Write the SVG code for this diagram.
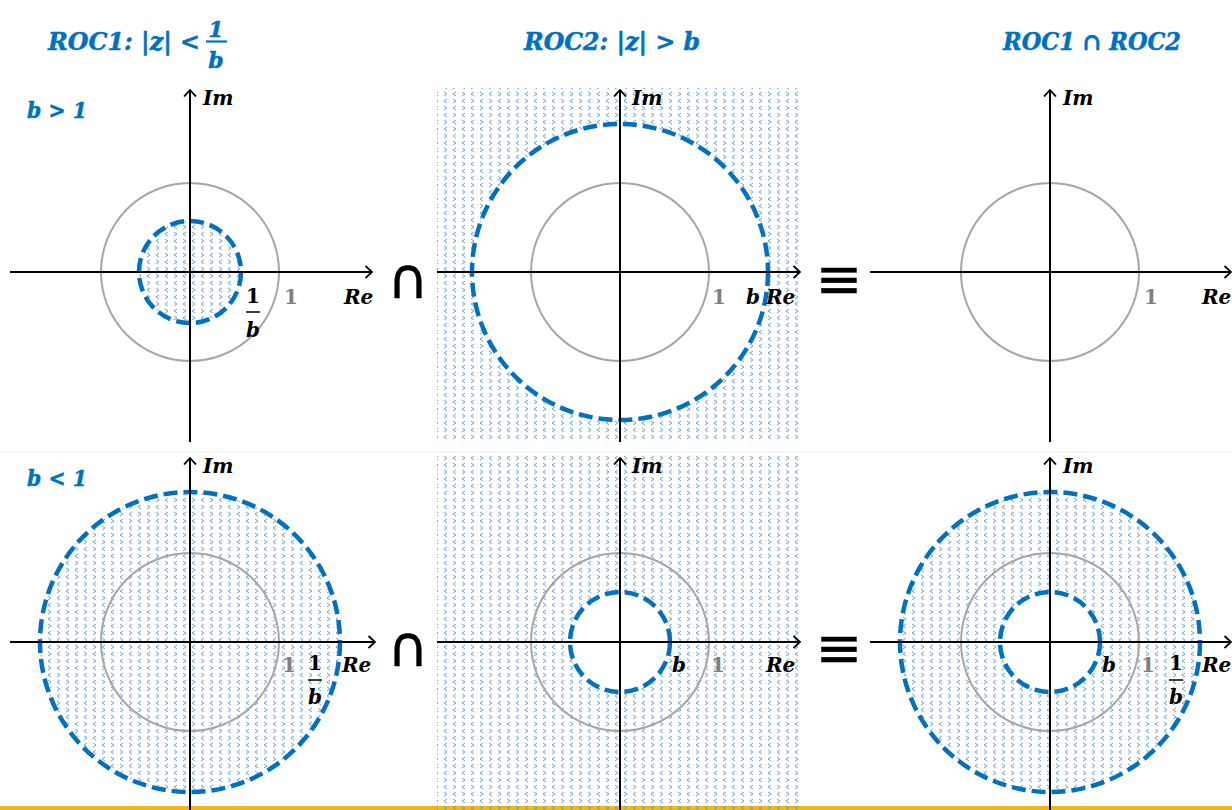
<svg xmlns="http://www.w3.org/2000/svg" width="1232" height="810" viewBox="0 0 1232 810">
<defs>
<pattern id="dots" x="0" y="0" width="18" height="14" patternUnits="userSpaceOnUse">
<path d="M3,1 L6,3 L3,5 M15,1 L12,3 L15,5 M6,8 L3,10 L6,12 M12,8 L15,10 L12,12" fill="none" stroke="#5d97d6" stroke-width="0.9"/>
</pattern>
<marker id="ah" viewBox="0 0 8 14" refX="7" refY="7" markerWidth="8" markerHeight="14" markerUnits="userSpaceOnUse" orient="auto">
<path d="M0.5,1 L7,7 L0.5,13" fill="none" stroke="#000" stroke-width="1.8"/>
</marker>
<style>
.ax{stroke:#000;stroke-width:2;fill:none;marker-end:url(#ah)}
.unit{fill:none;stroke:#a6a6a6;stroke-width:2}
.roc{fill:none;stroke:#0070c0;stroke-width:4.5;stroke-dasharray:14 6}
.hd{font-family:"DejaVu Serif","Liberation Serif",serif;font-weight:bold;font-style:italic;fill:#0070c0;stroke:#0070c0;stroke-width:0.5}
.lb{font-family:"DejaVu Serif","Liberation Serif",serif;font-weight:bold;font-style:italic;fill:#000;font-size:20px}
.one{font-family:"DejaVu Serif","Liberation Serif",serif;font-weight:bold;fill:#7f7f7f;font-size:20px}
.num{font-family:"DejaVu Serif","Liberation Serif",serif;font-weight:bold;fill:#000;font-size:20px}
.op{font-family:"DejaVu Sans","Liberation Sans",sans-serif;fill:#000;stroke:#000;stroke-width:0.4}
</style>
</defs>
<rect width="1232" height="810" fill="#fff"/>
<line x1="0" y1="452" x2="1232" y2="452" stroke="#f0f0f0" stroke-width="1"/>
<rect x="0" y="806" width="1232" height="4" fill="#f5b41c"/>

<g id="headers">
<text class="hd" x="48" y="50" font-size="24" textLength="152" lengthAdjust="spacingAndGlyphs">ROC1: |z| &lt;</text>
<text class="hd" x="216" y="37" font-size="22" text-anchor="middle" font-style="normal">1</text>
<line x1="206" y1="41.5" x2="227" y2="41.5" stroke="#0070c0" stroke-width="2.2"/>
<text class="hd" x="216" y="68" font-size="22" text-anchor="middle">b</text>
<text class="hd" x="524" y="50" font-size="24" textLength="176" lengthAdjust="spacingAndGlyphs">ROC2: |z| &gt; b</text>
<text class="hd" x="1003" y="50" font-size="24" textLength="178" lengthAdjust="spacingAndGlyphs">ROC1 ∩ ROC2</text>
<text class="hd" x="27" y="118" font-size="22" textLength="60" lengthAdjust="spacingAndGlyphs">b &gt; 1</text>
<text class="hd" x="27" y="486" font-size="22" textLength="60" lengthAdjust="spacingAndGlyphs">b &lt; 1</text>
</g>

<g id="panel-top-roc1">
<circle cx="190" cy="272" r="51" fill="url(#dots)"/>
<circle class="unit" cx="190" cy="272" r="89"/>
<circle class="roc" cx="190" cy="272" r="51"/>
<line class="ax" x1="10" y1="272" x2="372" y2="272"/>
<line class="ax" x1="190" y1="442" x2="190" y2="90"/>
<text class="lb" x="203" y="105">Im</text>
<text class="lb" x="344" y="304">Re</text>
<text class="one" x="284" y="304">1</text>
<text class="num" x="253" y="303" text-anchor="middle">1</text>
<line x1="246" y1="312" x2="260" y2="312" stroke="#000" stroke-width="1.5"/>
<text class="lb" x="253" y="337" text-anchor="middle">b</text>
</g>

<g id="panel-top-roc2">
<rect x="437" y="88" width="363" height="354" fill="url(#dots)"/>
<circle cx="620" cy="272" r="148" fill="#fff"/>
<circle class="unit" cx="620" cy="272" r="89"/>
<circle class="roc" cx="620" cy="272" r="148"/>
<line class="ax" x1="437" y1="272" x2="800" y2="272"/>
<line class="ax" x1="620" y1="442" x2="620" y2="90"/>
<text class="lb" x="632" y="105">Im</text>
<text class="lb" x="766" y="304">Re</text>
<text class="one" x="712" y="304">1</text>
<text class="lb" x="746" y="304">b</text>
</g>

<g id="op-top">
<text class="op" x="408" y="298" font-size="56" text-anchor="middle">∩</text>
<text class="op" x="839" y="298" font-size="56" text-anchor="middle">≡</text>
</g>

<g id="panel-top-result">
<circle class="unit" cx="1050" cy="272" r="89"/>
<line class="ax" x1="870" y1="272" x2="1231" y2="272"/>
<line class="ax" x1="1050" y1="442" x2="1050" y2="90"/>
<text class="lb" x="1063" y="105">Im</text>
<text class="lb" x="1202" y="304">Re</text>
<text class="one" x="1144" y="304">1</text>
</g>

<g id="panel-bot-roc1">
<circle cx="190" cy="642" r="150" fill="url(#dots)"/>
<circle class="unit" cx="190" cy="642" r="89"/>
<circle class="roc" cx="190" cy="642" r="150"/>
<line class="ax" x1="10" y1="642" x2="375" y2="642"/>
<line class="ax" x1="190" y1="810" x2="190" y2="458"/>
<text class="lb" x="203" y="473">Im</text>
<text class="lb" x="342" y="672">Re</text>
<text class="one" x="282" y="672">1</text>
<text class="num" x="315" y="670" text-anchor="middle">1</text>
<line x1="308" y1="680" x2="322" y2="680" stroke="#000" stroke-width="1.5"/>
<text class="lb" x="315" y="704" text-anchor="middle">b</text>
</g>

<g id="panel-bot-roc2">
<rect x="437" y="455" width="363" height="355" fill="url(#dots)"/>
<circle cx="620" cy="642" r="50" fill="#fff"/>
<circle class="unit" cx="620" cy="642" r="89"/>
<circle class="roc" cx="620" cy="642" r="50"/>
<line class="ax" x1="437" y1="642" x2="800" y2="642"/>
<line class="ax" x1="620" y1="810" x2="620" y2="458"/>
<text class="lb" x="632" y="473">Im</text>
<text class="lb" x="766" y="672">Re</text>
<text class="one" x="711" y="672">1</text>
<text class="lb" x="672" y="672">b</text>
</g>

<g id="op-bot">
<text class="op" x="408" y="666" font-size="56" text-anchor="middle">∩</text>
<text class="op" x="839" y="667" font-size="56" text-anchor="middle">≡</text>
</g>

<g id="panel-bot-result">
<path d="M900,642 a150,150 0 1,0 300,0 a150,150 0 1,0 -300,0 Z M1000,642 a50,50 0 1,0 100,0 a50,50 0 1,0 -100,0 Z" fill="url(#dots)" fill-rule="evenodd"/>
<circle class="unit" cx="1050" cy="642" r="89"/>
<circle class="roc" cx="1050" cy="642" r="150"/>
<circle class="roc" cx="1050" cy="642" r="50"/>
<line class="ax" x1="870" y1="642" x2="1231" y2="642"/>
<line class="ax" x1="1050" y1="810" x2="1050" y2="458"/>
<text class="lb" x="1063" y="473">Im</text>
<text class="lb" x="1202" y="672">Re</text>
<text class="one" x="1141" y="672">1</text>
<text class="lb" x="1102" y="672">b</text>
<text class="num" x="1176" y="670" text-anchor="middle">1</text>
<line x1="1169" y1="680" x2="1183" y2="680" stroke="#000" stroke-width="1.5"/>
<text class="lb" x="1176" y="704" text-anchor="middle">b</text>
</g>
</svg>
